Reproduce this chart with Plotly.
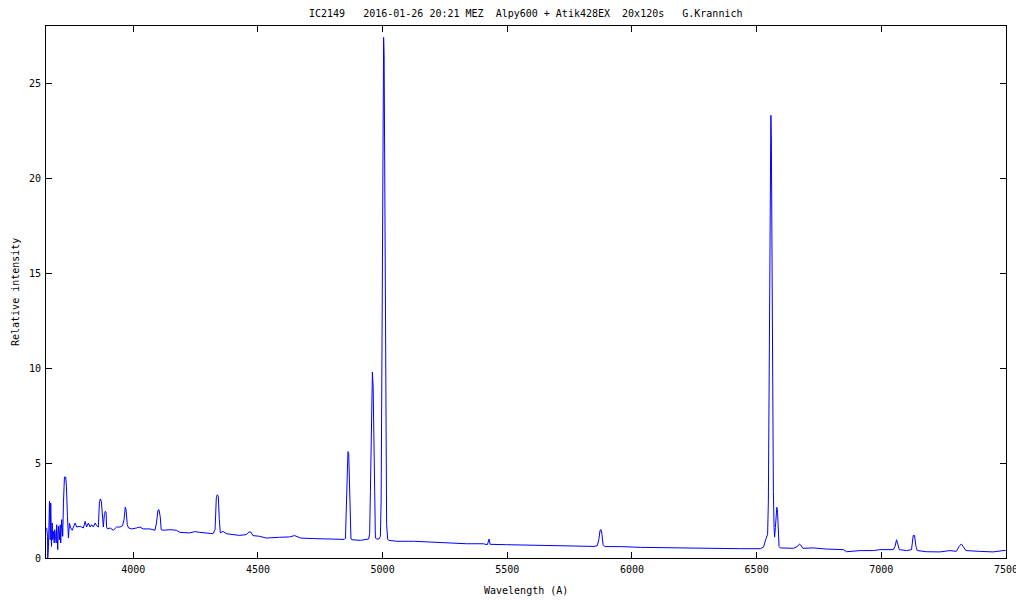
import plotly.graph_objects as go

# Spectrum of IC2149 (wavelength in Angstrom, relative intensity)
wavelength = [
    3651, 3653, 3656, 3657, 3660, 3664, 3667, 3669, 3672, 3675, 3677, 3680, 3683, 3685, 3688,
    3691, 3693, 3697, 3700, 3704, 3707, 3709, 3713, 3717, 3720, 3724, 3729, 3732, 3736, 3740,
    3744, 3749, 3755, 3760, 3767, 3773, 3787, 3800, 3807, 3813, 3820, 3827, 3833, 3840, 3847,
    3853, 3860, 3864, 3868, 3872, 3876, 3880, 3884, 3888, 3891, 3893, 3897, 3907, 3920, 3927,
    3933, 3947, 3957, 3963, 3968, 3971, 3976, 3981, 3993, 4013, 4027, 4040, 4067, 4087, 4093,
    4099, 4103, 4108, 4112, 4120, 4147, 4173, 4187, 4227, 4247, 4267, 4293, 4320, 4328, 4333,
    4337, 4341, 4345, 4349, 4360, 4373, 4400, 4427, 4453, 4464, 4471, 4480, 4507, 4533, 4587,
    4627, 4647, 4660, 4671, 4724, 4791, 4846, 4851, 4853, 4856, 4859, 4861, 4864, 4867, 4870,
    4873, 4877, 4911, 4944, 4948, 4951, 4954, 4957, 4959, 4962, 4965, 4968, 4971, 4977, 4985,
    4991, 4994, 4997, 5000, 5002, 5004, 5006, 5008, 5010, 5013, 5016, 5020, 5024, 5057, 5124,
    5191, 5257, 5337, 5404, 5420, 5427, 5431, 5497, 5577, 5657, 5737, 5784, 5848, 5861, 5867,
    5872, 5876, 5880, 5884, 5891, 5955, 6035, 6115, 6195, 6275, 6355, 6435, 6515, 6528, 6536,
    6540, 6544, 6547, 6550, 6553, 6555, 6557, 6559, 6561, 6564, 6567, 6570, 6572, 6575, 6578,
    6581, 6584, 6587, 6590, 6595, 6648, 6664, 6672, 6677, 6685, 6728, 6781, 6848, 6861, 6915,
    6968, 6995, 7048, 7055, 7061, 7065, 7072, 7101, 7121, 7128, 7133, 7139, 7144, 7181, 7235,
    7275, 7301, 7312, 7321, 7328, 7339, 7395, 7448, 7488, 7499,
]
intensity = [
    1.58, 1.58, 1.14, 0.00, 0.61, 2.98, 0.96, 2.89, 0.61, 1.84, 0.96, 1.40, 0.79, 1.49, 1.14,
    0.79, 1.75, 0.44, 1.67, 0.96, 1.75, 0.79, 2.02, 1.14, 2.89, 4.26, 4.26, 3.77, 2.19, 1.05,
    1.84, 1.58, 1.46, 1.63, 1.84, 1.63, 1.67, 1.58, 1.93, 1.63, 1.84, 1.63, 1.75, 1.63, 1.84,
    1.70, 1.63, 2.89, 3.11, 2.98, 2.02, 1.63, 2.28, 2.46, 2.40, 1.63, 1.53, 1.58, 1.46, 1.53,
    1.63, 1.63, 1.70, 2.02, 2.68, 2.54, 1.75, 1.58, 1.53, 1.58, 1.63, 1.53, 1.53, 1.46, 1.84,
    2.51, 2.54, 2.19, 1.49, 1.46, 1.49, 1.46, 1.35, 1.32, 1.39, 1.35, 1.32, 1.28, 1.49, 3.16,
    3.33, 3.25, 2.02, 1.32, 1.40, 1.28, 1.23, 1.19, 1.23, 1.37, 1.37, 1.18, 1.14, 1.05, 1.09,
    1.11, 1.18, 1.09, 1.05, 1.02, 1.00, 0.98, 1.05, 2.00, 4.00, 5.30, 5.60, 5.50, 4.20, 2.00,
    1.00, 0.96, 0.93, 1.00, 1.30, 3.50, 7.00, 9.50, 9.79, 9.00, 6.50, 2.50, 1.05, 1.00, 1.00,
    1.14, 3.00, 10.0, 20.0, 26.0, 27.4, 26.5, 22.0, 14.0, 6.00, 1.80, 1.00, 0.93, 0.88, 0.88,
    0.84, 0.79, 0.75, 0.75, 0.70, 1.00, 0.72, 0.70, 0.68, 0.67, 0.65, 0.61, 0.61, 0.65, 0.96,
    1.46, 1.49, 1.23, 0.70, 0.60, 0.60, 0.56, 0.54, 0.53, 0.51, 0.51, 0.49, 0.49, 0.58, 0.96,
    1.10, 1.25, 3.00, 9.00, 18.0, 22.5, 23.3, 22.0, 17.0, 8.00, 3.50, 1.60, 1.10, 1.60, 2.60,
    2.67, 2.40, 1.30, 0.60, 0.53, 0.51, 0.61, 0.74, 0.68, 0.51, 0.53, 0.47, 0.44, 0.33, 0.39,
    0.39, 0.44, 0.44, 0.61, 0.96, 0.79, 0.44, 0.39, 0.44, 1.19, 1.19, 0.61, 0.39, 0.33, 0.32,
    0.39, 0.35, 0.61, 0.74, 0.61, 0.39, 0.35, 0.32, 0.39, 0.40,
]

x_ticks = [4000, 4500, 5000, 5500, 6000, 6500, 7000, 7500]
y_ticks = [0, 5, 10, 15, 20, 25]

title_text = "IC2149\u00a0\u00a0\u00a02016-01-26 20:21 MEZ\u00a0\u00a0Alpy600 + Atik428EX\u00a0\u00a020x120s\u00a0\u00a0\u00a0G.Krannich"
x_title = "Wavelength (A)"
y_title = "Relative intensity"

FONT = "DejaVu Sans Mono"

fig = go.Figure()
fig.add_trace(go.Scatter(
    x=wavelength, y=intensity, mode="lines",
    line=dict(color="#0000ff", width=1), showlegend=False,
))

axis_common = dict(
    showgrid=False, zeroline=False, showline=True, linecolor="black", linewidth=1,
    mirror="ticks", ticks="inside", ticklen=6, tickcolor="black", tickwidth=1,
    tickfont=dict(family=FONT, size=10, color="black"), automargin=False,
)

# The page body has an 8px default margin, so the margins compensate for it.
fig.update_layout(
    width=1024, height=600,
    margin=dict(l=38, r=26, t=18, b=50, autoexpand=False),
    paper_bgcolor="white", plot_bgcolor="white",
    font=dict(family=FONT, size=10, color="black"),
    xaxis=dict(range=[3650, 7500], tickvals=x_ticks, ticktext=[str(v) for v in x_ticks],
               ticklabelstandoff=2, **axis_common),
    yaxis=dict(range=[0, 28], tickvals=y_ticks, ticktext=[str(v) for v in y_ticks],
               ticklabelstandoff=2, **axis_common),
    annotations=[
        dict(text=title_text, xref="paper", yref="paper", x=0.5, y=1, yshift=13, xshift=-1,
             xanchor="center", yanchor="middle", showarrow=False,
             font=dict(family=FONT, size=10, color="black")),
        dict(text=x_title, xref="paper", yref="paper", x=0.5, y=0, yshift=-32,
             xanchor="center", yanchor="middle", showarrow=False,
             font=dict(family=FONT, size=10, color="black")),
        dict(text=y_title, xref="paper", yref="paper", x=0, y=0.5, xshift=-31,
             xanchor="center", yanchor="middle", showarrow=False, textangle=-90,
             font=dict(family=FONT, size=10, color="black")),
    ],
)

fig.write_html("out.html")
